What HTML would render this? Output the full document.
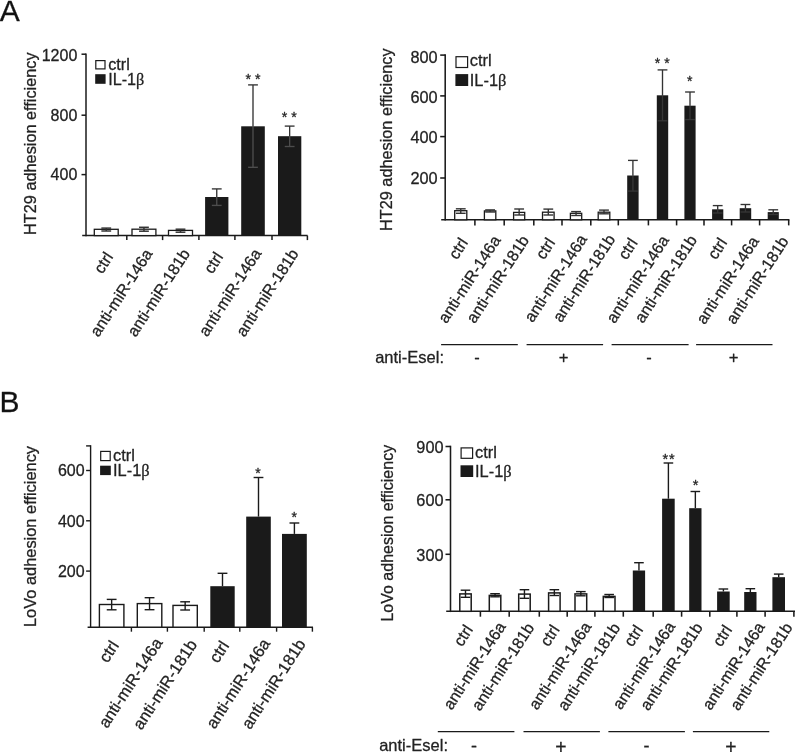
<!DOCTYPE html>
<html lang="en">
<head>
<meta charset="utf-8">
<title>Adhesion efficiency figure</title>
<style>
html,body{margin:0;padding:0;background:#ffffff;}
body{width:795px;height:752px;overflow:hidden;font-family:"Liberation Sans", sans-serif;}
svg{will-change:transform;}
svg text{font-family:"Liberation Sans", sans-serif;stroke:#222222;stroke-width:0.28px;stroke-linejoin:round;}
</style>
</head>
<body>
<svg width="795" height="752" viewBox="0 0 795 752" font-family='"Liberation Sans", sans-serif' style="display:block">
<rect x="0" y="0" width="795" height="752" fill="#ffffff"/>
<text x="-0.20" y="20.50" font-size="30" text-anchor="start" fill="#111111">A</text>
<text x="-0.60" y="411.80" font-size="30" text-anchor="start" fill="#111111">B</text>
<line x1="86.00" y1="53.45" x2="86.00" y2="236.35" stroke="#1a1a1a" stroke-width="1.5"/>
<line x1="82.20" y1="235.60" x2="307.60" y2="235.60" stroke="#1a1a1a" stroke-width="1.5"/>
<line x1="81.50" y1="54.20" x2="86.00" y2="54.20" stroke="#1a1a1a" stroke-width="1.5"/>
<text x="77.30" y="60.80" font-size="16" text-anchor="end" fill="#222222">1200</text>
<line x1="81.50" y1="115.20" x2="86.00" y2="115.20" stroke="#1a1a1a" stroke-width="1.5"/>
<text x="77.30" y="120.70" font-size="16" text-anchor="end" fill="#222222">800</text>
<line x1="81.50" y1="174.60" x2="86.00" y2="174.60" stroke="#1a1a1a" stroke-width="1.5"/>
<text x="77.30" y="180.20" font-size="16" text-anchor="end" fill="#222222">400</text>
<line x1="126.80" y1="235.60" x2="126.80" y2="240.10" stroke="#1a1a1a" stroke-width="1.5"/>
<line x1="162.60" y1="235.60" x2="162.60" y2="240.10" stroke="#1a1a1a" stroke-width="1.5"/>
<line x1="198.90" y1="235.60" x2="198.90" y2="240.10" stroke="#1a1a1a" stroke-width="1.5"/>
<line x1="234.90" y1="235.60" x2="234.90" y2="240.10" stroke="#1a1a1a" stroke-width="1.5"/>
<line x1="272.00" y1="235.60" x2="272.00" y2="240.10" stroke="#1a1a1a" stroke-width="1.5"/>
<line x1="307.40" y1="235.60" x2="307.40" y2="240.10" stroke="#1a1a1a" stroke-width="1.5"/>
<rect x="94.30" y="229.30" width="23.90" height="6.30" fill="#ffffff" stroke="#1a1a1a" stroke-width="1.3"/>
<line x1="106.25" y1="228.10" x2="106.25" y2="229.30" stroke="#333333" stroke-width="1.5"/>
<line x1="106.25" y1="229.30" x2="106.25" y2="231.00" stroke="#333333" stroke-width="1.5"/>
<line x1="101.35" y1="228.10" x2="111.15" y2="228.10" stroke="#333333" stroke-width="1.5"/>
<line x1="101.35" y1="231.00" x2="111.15" y2="231.00" stroke="#333333" stroke-width="1.5"/>
<rect x="132.00" y="229.20" width="23.90" height="6.40" fill="#ffffff" stroke="#1a1a1a" stroke-width="1.3"/>
<line x1="143.95" y1="227.30" x2="143.95" y2="229.20" stroke="#333333" stroke-width="1.5"/>
<line x1="143.95" y1="229.20" x2="143.95" y2="231.20" stroke="#333333" stroke-width="1.5"/>
<line x1="139.05" y1="227.30" x2="148.85" y2="227.30" stroke="#333333" stroke-width="1.5"/>
<line x1="139.05" y1="231.20" x2="148.85" y2="231.20" stroke="#333333" stroke-width="1.5"/>
<rect x="168.50" y="230.40" width="24.00" height="5.20" fill="#ffffff" stroke="#1a1a1a" stroke-width="1.3"/>
<line x1="180.50" y1="229.20" x2="180.50" y2="230.40" stroke="#333333" stroke-width="1.5"/>
<line x1="180.50" y1="230.40" x2="180.50" y2="232.20" stroke="#333333" stroke-width="1.5"/>
<line x1="175.60" y1="229.20" x2="185.40" y2="229.20" stroke="#333333" stroke-width="1.5"/>
<line x1="175.60" y1="232.20" x2="185.40" y2="232.20" stroke="#333333" stroke-width="1.5"/>
<rect x="205.10" y="197.00" width="23.30" height="38.60" fill="#1a1a1a"/>
<line x1="216.75" y1="188.90" x2="216.75" y2="197.00" stroke="#333333" stroke-width="1.35"/>
<line x1="216.75" y1="197.00" x2="216.75" y2="205.40" stroke="#4d4d4d" stroke-width="1.35"/>
<line x1="211.85" y1="188.90" x2="221.65" y2="188.90" stroke="#333333" stroke-width="1.35"/>
<line x1="211.85" y1="205.40" x2="221.65" y2="205.40" stroke="#4d4d4d" stroke-width="1.35"/>
<rect x="241.20" y="126.30" width="23.60" height="109.30" fill="#1a1a1a"/>
<line x1="253.00" y1="84.90" x2="253.00" y2="126.30" stroke="#333333" stroke-width="1.35"/>
<line x1="253.00" y1="126.30" x2="253.00" y2="167.30" stroke="#4d4d4d" stroke-width="1.35"/>
<line x1="248.10" y1="84.90" x2="257.90" y2="84.90" stroke="#333333" stroke-width="1.35"/>
<line x1="248.10" y1="167.30" x2="257.90" y2="167.30" stroke="#4d4d4d" stroke-width="1.35"/>
<rect x="278.00" y="136.20" width="23.30" height="99.40" fill="#1a1a1a"/>
<line x1="289.65" y1="126.10" x2="289.65" y2="136.20" stroke="#333333" stroke-width="1.35"/>
<line x1="289.65" y1="136.20" x2="289.65" y2="146.50" stroke="#4d4d4d" stroke-width="1.35"/>
<line x1="284.75" y1="126.10" x2="294.55" y2="126.10" stroke="#333333" stroke-width="1.35"/>
<line x1="284.75" y1="146.50" x2="294.55" y2="146.50" stroke="#4d4d4d" stroke-width="1.35"/>
<rect x="95.80" y="60.60" width="9.20" height="8.30" fill="#ffffff" stroke="#1a1a1a" stroke-width="1.2"/>
<text x="108.20" y="69.50" font-size="16.2" text-anchor="start" fill="#222222">ctrl</text>
<rect x="95.20" y="74.20" width="10.40" height="9.60" fill="#1a1a1a"/>
<text x="108.20" y="85.00" font-size="16.2" text-anchor="start" fill="#222222">IL-1<tspan font-family="'Liberation Serif', serif">&#946;</tspan></text>
<text transform="translate(36.00,234.90) rotate(-90)" font-size="16.3" text-anchor="start" fill="#222222">HT29 adhesion efficiency</text>
<text transform="translate(113.80,256.80) rotate(-57)" font-size="16" text-anchor="end" fill="#222222">ctrl</text>
<text transform="translate(153.20,253.50) rotate(-57)" font-size="16" text-anchor="end" fill="#222222">anti-miR-146a</text>
<text transform="translate(190.50,253.50) rotate(-57)" font-size="16" text-anchor="end" fill="#222222">anti-miR-181b</text>
<text transform="translate(223.80,256.80) rotate(-57)" font-size="16" text-anchor="end" fill="#222222">ctrl</text>
<text transform="translate(262.00,253.20) rotate(-57)" font-size="16" text-anchor="end" fill="#222222">anti-miR-146a</text>
<text transform="translate(299.20,253.50) rotate(-57)" font-size="16" text-anchor="end" fill="#222222">anti-miR-181b</text>
<text x="253.00" y="83.80" font-size="14.2" text-anchor="middle" fill="#222222">* *</text>
<text x="289.30" y="122.30" font-size="14.2" text-anchor="middle" fill="#222222">* *</text>
<line x1="445.20" y1="54.33" x2="445.20" y2="220.58" stroke="#1a1a1a" stroke-width="1.55"/>
<line x1="441.20" y1="219.80" x2="789.40" y2="219.80" stroke="#1a1a1a" stroke-width="1.55"/>
<line x1="440.20" y1="55.10" x2="445.20" y2="55.10" stroke="#1a1a1a" stroke-width="1.55"/>
<text x="437.60" y="62.60" font-size="16.3" text-anchor="end" fill="#222222">800</text>
<line x1="440.20" y1="95.90" x2="445.20" y2="95.90" stroke="#1a1a1a" stroke-width="1.55"/>
<text x="437.60" y="102.60" font-size="16.3" text-anchor="end" fill="#222222">600</text>
<line x1="440.20" y1="136.60" x2="445.20" y2="136.60" stroke="#1a1a1a" stroke-width="1.55"/>
<text x="437.60" y="143.00" font-size="16.3" text-anchor="end" fill="#222222">400</text>
<line x1="440.20" y1="178.00" x2="445.20" y2="178.00" stroke="#1a1a1a" stroke-width="1.55"/>
<text x="437.60" y="183.50" font-size="16.3" text-anchor="end" fill="#222222">200</text>
<line x1="474.90" y1="219.80" x2="474.90" y2="225.40" stroke="#1a1a1a" stroke-width="1.55"/>
<line x1="504.20" y1="219.80" x2="504.20" y2="225.40" stroke="#1a1a1a" stroke-width="1.55"/>
<line x1="533.80" y1="219.80" x2="533.80" y2="225.40" stroke="#1a1a1a" stroke-width="1.55"/>
<line x1="562.00" y1="219.80" x2="562.00" y2="225.40" stroke="#1a1a1a" stroke-width="1.55"/>
<line x1="590.80" y1="219.80" x2="590.80" y2="225.40" stroke="#1a1a1a" stroke-width="1.55"/>
<line x1="618.30" y1="219.80" x2="618.30" y2="225.40" stroke="#1a1a1a" stroke-width="1.55"/>
<line x1="648.40" y1="219.80" x2="648.40" y2="225.40" stroke="#1a1a1a" stroke-width="1.55"/>
<line x1="676.60" y1="219.80" x2="676.60" y2="225.40" stroke="#1a1a1a" stroke-width="1.55"/>
<line x1="704.00" y1="219.80" x2="704.00" y2="225.40" stroke="#1a1a1a" stroke-width="1.55"/>
<line x1="731.60" y1="219.80" x2="731.60" y2="225.40" stroke="#1a1a1a" stroke-width="1.55"/>
<line x1="759.60" y1="219.80" x2="759.60" y2="225.40" stroke="#1a1a1a" stroke-width="1.55"/>
<line x1="788.70" y1="219.80" x2="788.70" y2="225.40" stroke="#1a1a1a" stroke-width="1.55"/>
<rect x="454.70" y="210.70" width="12.10" height="9.10" fill="#ffffff" stroke="#1a1a1a" stroke-width="1.3"/>
<line x1="460.75" y1="208.80" x2="460.75" y2="210.70" stroke="#333333" stroke-width="1.4"/>
<line x1="460.75" y1="210.70" x2="460.75" y2="213.30" stroke="#333333" stroke-width="1.4"/>
<line x1="455.85" y1="208.80" x2="465.65" y2="208.80" stroke="#333333" stroke-width="1.4"/>
<line x1="455.85" y1="213.30" x2="465.65" y2="213.30" stroke="#333333" stroke-width="1.4"/>
<rect x="484.40" y="210.90" width="11.40" height="8.90" fill="#ffffff" stroke="#1a1a1a" stroke-width="1.3"/>
<line x1="490.10" y1="209.90" x2="490.10" y2="210.90" stroke="#333333" stroke-width="1.4"/>
<line x1="490.10" y1="210.90" x2="490.10" y2="212.00" stroke="#333333" stroke-width="1.4"/>
<line x1="485.20" y1="209.90" x2="495.00" y2="209.90" stroke="#333333" stroke-width="1.4"/>
<line x1="485.20" y1="212.00" x2="495.00" y2="212.00" stroke="#333333" stroke-width="1.4"/>
<rect x="513.60" y="212.40" width="11.10" height="7.40" fill="#ffffff" stroke="#1a1a1a" stroke-width="1.3"/>
<line x1="519.15" y1="209.00" x2="519.15" y2="212.40" stroke="#333333" stroke-width="1.4"/>
<line x1="519.15" y1="212.40" x2="519.15" y2="215.00" stroke="#333333" stroke-width="1.4"/>
<line x1="514.25" y1="209.00" x2="524.05" y2="209.00" stroke="#333333" stroke-width="1.4"/>
<line x1="514.25" y1="215.00" x2="524.05" y2="215.00" stroke="#333333" stroke-width="1.4"/>
<rect x="542.50" y="212.20" width="11.60" height="7.60" fill="#ffffff" stroke="#1a1a1a" stroke-width="1.3"/>
<line x1="548.30" y1="209.10" x2="548.30" y2="212.20" stroke="#333333" stroke-width="1.4"/>
<line x1="548.30" y1="212.20" x2="548.30" y2="215.00" stroke="#333333" stroke-width="1.4"/>
<line x1="543.40" y1="209.10" x2="553.20" y2="209.10" stroke="#333333" stroke-width="1.4"/>
<line x1="543.40" y1="215.00" x2="553.20" y2="215.00" stroke="#333333" stroke-width="1.4"/>
<rect x="570.40" y="213.30" width="11.30" height="6.50" fill="#ffffff" stroke="#1a1a1a" stroke-width="1.3"/>
<line x1="576.05" y1="211.60" x2="576.05" y2="213.30" stroke="#333333" stroke-width="1.4"/>
<line x1="576.05" y1="213.30" x2="576.05" y2="215.50" stroke="#333333" stroke-width="1.4"/>
<line x1="571.15" y1="211.60" x2="580.95" y2="211.60" stroke="#333333" stroke-width="1.4"/>
<line x1="571.15" y1="215.50" x2="580.95" y2="215.50" stroke="#333333" stroke-width="1.4"/>
<rect x="598.20" y="212.20" width="11.60" height="7.60" fill="#ffffff" stroke="#1a1a1a" stroke-width="1.3"/>
<line x1="604.00" y1="210.10" x2="604.00" y2="212.20" stroke="#333333" stroke-width="1.4"/>
<line x1="604.00" y1="212.20" x2="604.00" y2="213.80" stroke="#333333" stroke-width="1.4"/>
<line x1="599.10" y1="210.10" x2="608.90" y2="210.10" stroke="#333333" stroke-width="1.4"/>
<line x1="599.10" y1="213.80" x2="608.90" y2="213.80" stroke="#333333" stroke-width="1.4"/>
<rect x="627.20" y="175.50" width="11.40" height="44.30" fill="#1a1a1a"/>
<line x1="632.90" y1="160.40" x2="632.90" y2="175.50" stroke="#333333" stroke-width="1.35"/>
<line x1="632.90" y1="175.50" x2="632.90" y2="191.10" stroke="#363636" stroke-width="1.35"/>
<line x1="628.00" y1="160.40" x2="637.80" y2="160.40" stroke="#333333" stroke-width="1.35"/>
<line x1="628.00" y1="191.10" x2="637.80" y2="191.10" stroke="#363636" stroke-width="1.35"/>
<rect x="656.80" y="95.30" width="11.40" height="124.50" fill="#1a1a1a"/>
<line x1="662.50" y1="69.90" x2="662.50" y2="95.30" stroke="#333333" stroke-width="1.35"/>
<line x1="662.50" y1="95.30" x2="662.50" y2="120.80" stroke="#363636" stroke-width="1.35"/>
<line x1="657.60" y1="69.90" x2="667.40" y2="69.90" stroke="#333333" stroke-width="1.35"/>
<line x1="657.60" y1="120.80" x2="667.40" y2="120.80" stroke="#363636" stroke-width="1.35"/>
<rect x="684.40" y="105.70" width="11.20" height="114.10" fill="#1a1a1a"/>
<line x1="690.00" y1="92.00" x2="690.00" y2="105.70" stroke="#333333" stroke-width="1.35"/>
<line x1="690.00" y1="105.70" x2="690.00" y2="119.60" stroke="#363636" stroke-width="1.35"/>
<line x1="685.10" y1="92.00" x2="694.90" y2="92.00" stroke="#333333" stroke-width="1.35"/>
<line x1="685.10" y1="119.60" x2="694.90" y2="119.60" stroke="#363636" stroke-width="1.35"/>
<rect x="712.10" y="209.30" width="11.20" height="10.50" fill="#1a1a1a"/>
<line x1="717.70" y1="205.60" x2="717.70" y2="209.30" stroke="#333333" stroke-width="1.35"/>
<line x1="717.70" y1="209.30" x2="717.70" y2="213.00" stroke="#363636" stroke-width="1.35"/>
<line x1="712.80" y1="205.60" x2="722.60" y2="205.60" stroke="#333333" stroke-width="1.35"/>
<line x1="712.80" y1="213.00" x2="722.60" y2="213.00" stroke="#363636" stroke-width="1.35"/>
<rect x="739.70" y="208.20" width="11.50" height="11.60" fill="#1a1a1a"/>
<line x1="745.45" y1="204.50" x2="745.45" y2="208.20" stroke="#333333" stroke-width="1.35"/>
<line x1="745.45" y1="208.20" x2="745.45" y2="212.00" stroke="#363636" stroke-width="1.35"/>
<line x1="740.55" y1="204.50" x2="750.35" y2="204.50" stroke="#333333" stroke-width="1.35"/>
<line x1="740.55" y1="212.00" x2="750.35" y2="212.00" stroke="#363636" stroke-width="1.35"/>
<rect x="767.70" y="212.10" width="11.10" height="7.70" fill="#1a1a1a"/>
<line x1="773.25" y1="209.80" x2="773.25" y2="212.10" stroke="#333333" stroke-width="1.35"/>
<line x1="773.25" y1="212.10" x2="773.25" y2="214.50" stroke="#363636" stroke-width="1.35"/>
<line x1="768.35" y1="209.80" x2="778.15" y2="209.80" stroke="#333333" stroke-width="1.35"/>
<line x1="768.35" y1="214.50" x2="778.15" y2="214.50" stroke="#363636" stroke-width="1.35"/>
<rect x="456.00" y="56.70" width="11.60" height="10.80" fill="#ffffff" stroke="#1a1a1a" stroke-width="1.2"/>
<text x="469.80" y="66.20" font-size="16.4" text-anchor="start" fill="#222222">ctrl</text>
<rect x="455.40" y="74.10" width="12.80" height="11.90" fill="#1a1a1a"/>
<text x="469.80" y="85.80" font-size="16.4" text-anchor="start" fill="#222222">IL-1<tspan font-family="'Liberation Serif', serif">&#946;</tspan></text>
<text transform="translate(392.00,231.00) rotate(-90)" font-size="16.3" text-anchor="start" fill="#222222">HT29 adhesion efficiency</text>
<text transform="translate(468.50,242.50) rotate(-57)" font-size="16" text-anchor="end" fill="#222222">ctrl</text>
<text transform="translate(501.30,240.00) rotate(-57)" font-size="16" text-anchor="end" fill="#222222">anti-miR-146a</text>
<text transform="translate(529.60,240.00) rotate(-57)" font-size="16" text-anchor="end" fill="#222222">anti-miR-181b</text>
<text transform="translate(555.70,242.50) rotate(-57)" font-size="16" text-anchor="end" fill="#222222">ctrl</text>
<text transform="translate(587.60,239.00) rotate(-57)" font-size="16" text-anchor="end" fill="#222222">anti-miR-146a</text>
<text transform="translate(615.90,239.00) rotate(-57)" font-size="16" text-anchor="end" fill="#222222">anti-miR-181b</text>
<text transform="translate(638.10,242.80) rotate(-57)" font-size="16" text-anchor="end" fill="#222222">ctrl</text>
<text transform="translate(669.50,240.00) rotate(-57)" font-size="16" text-anchor="end" fill="#222222">anti-miR-146a</text>
<text transform="translate(697.70,239.70) rotate(-57)" font-size="16" text-anchor="end" fill="#222222">anti-miR-181b</text>
<text transform="translate(727.70,242.50) rotate(-57)" font-size="16" text-anchor="end" fill="#222222">ctrl</text>
<text transform="translate(759.50,241.00) rotate(-57)" font-size="16" text-anchor="end" fill="#222222">anti-miR-146a</text>
<text transform="translate(789.20,241.00) rotate(-57)" font-size="16" text-anchor="end" fill="#222222">anti-miR-181b</text>
<text x="662.20" y="67.60" font-size="14" text-anchor="middle" fill="#222222">* *</text>
<text x="689.80" y="85.90" font-size="14" text-anchor="middle" fill="#222222">*</text>
<line x1="441.10" y1="344.60" x2="517.80" y2="344.60" stroke="#1a1a1a" stroke-width="1.3"/>
<line x1="526.60" y1="344.60" x2="603.10" y2="344.60" stroke="#1a1a1a" stroke-width="1.3"/>
<line x1="611.60" y1="344.60" x2="688.60" y2="344.60" stroke="#1a1a1a" stroke-width="1.3"/>
<line x1="696.10" y1="344.60" x2="772.50" y2="344.60" stroke="#1a1a1a" stroke-width="1.3"/>
<text x="375.20" y="362.90" font-size="16.5" text-anchor="start" fill="#222222">anti-Esel:</text>
<text x="476.90" y="362.90" font-size="16.4" text-anchor="middle" fill="#222222">-</text>
<text x="563.50" y="362.90" font-size="16.6" text-anchor="middle" fill="#222222">+</text>
<text x="649.00" y="362.90" font-size="16.4" text-anchor="middle" fill="#222222">-</text>
<text x="733.50" y="362.90" font-size="16.6" text-anchor="middle" fill="#222222">+</text>
<line x1="90.60" y1="445.20" x2="90.60" y2="627.90" stroke="#1a1a1a" stroke-width="1.4"/>
<line x1="87.60" y1="627.20" x2="313.00" y2="627.20" stroke="#1a1a1a" stroke-width="1.4"/>
<line x1="86.10" y1="445.90" x2="90.60" y2="445.90" stroke="#1a1a1a" stroke-width="1.4"/>
<line x1="86.10" y1="470.50" x2="90.60" y2="470.50" stroke="#1a1a1a" stroke-width="1.4"/>
<text x="84.60" y="476.40" font-size="16" text-anchor="end" fill="#222222">600</text>
<line x1="86.10" y1="520.80" x2="90.60" y2="520.80" stroke="#1a1a1a" stroke-width="1.4"/>
<text x="84.60" y="526.60" font-size="16" text-anchor="end" fill="#222222">400</text>
<line x1="86.10" y1="571.10" x2="90.60" y2="571.10" stroke="#1a1a1a" stroke-width="1.4"/>
<text x="84.60" y="577.10" font-size="16" text-anchor="end" fill="#222222">200</text>
<line x1="131.40" y1="627.20" x2="131.40" y2="631.70" stroke="#1a1a1a" stroke-width="1.4"/>
<line x1="167.40" y1="627.20" x2="167.40" y2="631.70" stroke="#1a1a1a" stroke-width="1.4"/>
<line x1="204.20" y1="627.20" x2="204.20" y2="631.70" stroke="#1a1a1a" stroke-width="1.4"/>
<line x1="239.80" y1="627.20" x2="239.80" y2="631.70" stroke="#1a1a1a" stroke-width="1.4"/>
<line x1="276.60" y1="627.20" x2="276.60" y2="631.70" stroke="#1a1a1a" stroke-width="1.4"/>
<line x1="312.40" y1="627.20" x2="312.40" y2="631.70" stroke="#1a1a1a" stroke-width="1.4"/>
<rect x="99.40" y="604.50" width="24.50" height="22.70" fill="#ffffff" stroke="#1a1a1a" stroke-width="1.4"/>
<line x1="111.65" y1="599.40" x2="111.65" y2="604.50" stroke="#1a1a1a" stroke-width="1.4"/>
<line x1="111.65" y1="604.50" x2="111.65" y2="609.80" stroke="#1a1a1a" stroke-width="1.4"/>
<line x1="106.75" y1="599.40" x2="116.55" y2="599.40" stroke="#1a1a1a" stroke-width="1.4"/>
<line x1="106.75" y1="609.80" x2="116.55" y2="609.80" stroke="#1a1a1a" stroke-width="1.4"/>
<rect x="137.30" y="603.60" width="24.50" height="23.60" fill="#ffffff" stroke="#1a1a1a" stroke-width="1.4"/>
<line x1="149.55" y1="597.70" x2="149.55" y2="603.60" stroke="#1a1a1a" stroke-width="1.4"/>
<line x1="149.55" y1="603.60" x2="149.55" y2="609.70" stroke="#1a1a1a" stroke-width="1.4"/>
<line x1="144.65" y1="597.70" x2="154.45" y2="597.70" stroke="#1a1a1a" stroke-width="1.4"/>
<line x1="144.65" y1="609.70" x2="154.45" y2="609.70" stroke="#1a1a1a" stroke-width="1.4"/>
<rect x="173.00" y="605.40" width="24.30" height="21.80" fill="#ffffff" stroke="#1a1a1a" stroke-width="1.4"/>
<line x1="185.15" y1="601.80" x2="185.15" y2="605.40" stroke="#1a1a1a" stroke-width="1.4"/>
<line x1="185.15" y1="605.40" x2="185.15" y2="610.00" stroke="#1a1a1a" stroke-width="1.4"/>
<line x1="180.25" y1="601.80" x2="190.05" y2="601.80" stroke="#1a1a1a" stroke-width="1.4"/>
<line x1="180.25" y1="610.00" x2="190.05" y2="610.00" stroke="#1a1a1a" stroke-width="1.4"/>
<rect x="210.30" y="586.20" width="24.40" height="41.00" fill="#1a1a1a"/>
<line x1="222.50" y1="573.30" x2="222.50" y2="586.20" stroke="#1a1a1a" stroke-width="1.4"/>
<line x1="217.60" y1="573.30" x2="227.40" y2="573.30" stroke="#1a1a1a" stroke-width="1.4"/>
<rect x="246.20" y="516.60" width="24.60" height="110.60" fill="#1a1a1a"/>
<line x1="258.50" y1="477.50" x2="258.50" y2="516.60" stroke="#1a1a1a" stroke-width="1.4"/>
<line x1="253.60" y1="477.50" x2="263.40" y2="477.50" stroke="#1a1a1a" stroke-width="1.4"/>
<rect x="282.00" y="533.90" width="24.80" height="93.30" fill="#1a1a1a"/>
<line x1="294.40" y1="523.00" x2="294.40" y2="533.90" stroke="#1a1a1a" stroke-width="1.4"/>
<line x1="289.50" y1="523.00" x2="299.30" y2="523.00" stroke="#1a1a1a" stroke-width="1.4"/>
<rect x="100.70" y="451.40" width="9.50" height="9.20" fill="#ffffff" stroke="#1a1a1a" stroke-width="1.2"/>
<text x="113.00" y="460.60" font-size="16.4" text-anchor="start" fill="#222222">ctrl</text>
<rect x="100.10" y="465.70" width="10.70" height="9.40" fill="#1a1a1a"/>
<text x="113.00" y="475.90" font-size="16.4" text-anchor="start" fill="#222222">IL-1<tspan font-family="'Liberation Serif', serif">&#946;</tspan></text>
<text transform="translate(36.20,627.00) rotate(-90)" font-size="16.4" text-anchor="start" fill="#222222">LoVo adhesion efficiency</text>
<text transform="translate(119.50,645.40) rotate(-57)" font-size="16.4" text-anchor="end" fill="#222222">ctrl</text>
<text transform="translate(163.20,642.70) rotate(-57)" font-size="16.4" text-anchor="end" fill="#222222">anti-miR-146a</text>
<text transform="translate(197.60,644.30) rotate(-57)" font-size="16.4" text-anchor="end" fill="#222222">anti-miR-181b</text>
<text transform="translate(229.70,645.60) rotate(-57)" font-size="16.4" text-anchor="end" fill="#222222">ctrl</text>
<text transform="translate(270.80,643.30) rotate(-57)" font-size="16.4" text-anchor="end" fill="#222222">anti-miR-146a</text>
<text transform="translate(306.20,643.80) rotate(-57)" font-size="16.4" text-anchor="end" fill="#222222">anti-miR-181b</text>
<text x="258.00" y="478.20" font-size="14" text-anchor="middle" fill="#222222">*</text>
<text x="294.30" y="522.20" font-size="14" text-anchor="middle" fill="#222222">*</text>
<line x1="450.50" y1="445.73" x2="450.50" y2="612.07" stroke="#1a1a1a" stroke-width="1.55"/>
<line x1="446.20" y1="611.30" x2="795.00" y2="611.30" stroke="#1a1a1a" stroke-width="1.55"/>
<line x1="445.50" y1="446.50" x2="450.50" y2="446.50" stroke="#1a1a1a" stroke-width="1.55"/>
<text x="443.50" y="453.40" font-size="16.3" text-anchor="end" fill="#222222">900</text>
<line x1="445.50" y1="499.80" x2="450.50" y2="499.80" stroke="#1a1a1a" stroke-width="1.55"/>
<text x="443.50" y="506.40" font-size="16.3" text-anchor="end" fill="#222222">600</text>
<line x1="445.50" y1="554.30" x2="450.50" y2="554.30" stroke="#1a1a1a" stroke-width="1.55"/>
<text x="443.50" y="560.90" font-size="16.3" text-anchor="end" fill="#222222">300</text>
<line x1="480.40" y1="611.30" x2="480.40" y2="616.70" stroke="#1a1a1a" stroke-width="1.55"/>
<line x1="509.20" y1="611.30" x2="509.20" y2="616.70" stroke="#1a1a1a" stroke-width="1.55"/>
<line x1="539.30" y1="611.30" x2="539.30" y2="616.70" stroke="#1a1a1a" stroke-width="1.55"/>
<line x1="567.20" y1="611.30" x2="567.20" y2="616.70" stroke="#1a1a1a" stroke-width="1.55"/>
<line x1="594.90" y1="611.30" x2="594.90" y2="616.70" stroke="#1a1a1a" stroke-width="1.55"/>
<line x1="623.30" y1="611.30" x2="623.30" y2="616.70" stroke="#1a1a1a" stroke-width="1.55"/>
<line x1="653.20" y1="611.30" x2="653.20" y2="616.70" stroke="#1a1a1a" stroke-width="1.55"/>
<line x1="681.60" y1="611.30" x2="681.60" y2="616.70" stroke="#1a1a1a" stroke-width="1.55"/>
<line x1="709.80" y1="611.30" x2="709.80" y2="616.70" stroke="#1a1a1a" stroke-width="1.55"/>
<line x1="736.90" y1="611.30" x2="736.90" y2="616.70" stroke="#1a1a1a" stroke-width="1.55"/>
<line x1="765.10" y1="611.30" x2="765.10" y2="616.70" stroke="#1a1a1a" stroke-width="1.55"/>
<line x1="793.90" y1="611.30" x2="793.90" y2="616.70" stroke="#1a1a1a" stroke-width="1.55"/>
<rect x="459.80" y="593.90" width="11.40" height="17.40" fill="#ffffff" stroke="#1a1a1a" stroke-width="1.5"/>
<line x1="465.50" y1="590.20" x2="465.50" y2="593.90" stroke="#1a1a1a" stroke-width="1.4"/>
<line x1="465.50" y1="593.90" x2="465.50" y2="597.30" stroke="#1a1a1a" stroke-width="1.4"/>
<line x1="460.70" y1="590.20" x2="470.30" y2="590.20" stroke="#1a1a1a" stroke-width="1.4"/>
<line x1="460.70" y1="597.30" x2="470.30" y2="597.30" stroke="#1a1a1a" stroke-width="1.4"/>
<rect x="489.30" y="595.40" width="11.50" height="15.90" fill="#ffffff" stroke="#1a1a1a" stroke-width="1.5"/>
<line x1="495.05" y1="593.70" x2="495.05" y2="595.40" stroke="#1a1a1a" stroke-width="1.4"/>
<line x1="495.05" y1="595.40" x2="495.05" y2="596.80" stroke="#1a1a1a" stroke-width="1.4"/>
<line x1="490.25" y1="593.70" x2="499.85" y2="593.70" stroke="#1a1a1a" stroke-width="1.4"/>
<line x1="490.25" y1="596.80" x2="499.85" y2="596.80" stroke="#1a1a1a" stroke-width="1.4"/>
<rect x="518.70" y="594.10" width="11.50" height="17.20" fill="#ffffff" stroke="#1a1a1a" stroke-width="1.5"/>
<line x1="524.45" y1="589.70" x2="524.45" y2="594.10" stroke="#1a1a1a" stroke-width="1.4"/>
<line x1="524.45" y1="594.10" x2="524.45" y2="598.30" stroke="#1a1a1a" stroke-width="1.4"/>
<line x1="519.65" y1="589.70" x2="529.25" y2="589.70" stroke="#1a1a1a" stroke-width="1.4"/>
<line x1="519.65" y1="598.30" x2="529.25" y2="598.30" stroke="#1a1a1a" stroke-width="1.4"/>
<rect x="548.60" y="592.90" width="11.50" height="18.40" fill="#ffffff" stroke="#1a1a1a" stroke-width="1.5"/>
<line x1="554.35" y1="589.70" x2="554.35" y2="592.90" stroke="#1a1a1a" stroke-width="1.4"/>
<line x1="554.35" y1="592.90" x2="554.35" y2="595.50" stroke="#1a1a1a" stroke-width="1.4"/>
<line x1="549.55" y1="589.70" x2="559.15" y2="589.70" stroke="#1a1a1a" stroke-width="1.4"/>
<line x1="549.55" y1="595.50" x2="559.15" y2="595.50" stroke="#1a1a1a" stroke-width="1.4"/>
<rect x="575.00" y="593.90" width="11.70" height="17.40" fill="#ffffff" stroke="#1a1a1a" stroke-width="1.5"/>
<line x1="580.85" y1="591.60" x2="580.85" y2="593.90" stroke="#1a1a1a" stroke-width="1.4"/>
<line x1="580.85" y1="593.90" x2="580.85" y2="595.80" stroke="#1a1a1a" stroke-width="1.4"/>
<line x1="576.05" y1="591.60" x2="585.65" y2="591.60" stroke="#1a1a1a" stroke-width="1.4"/>
<line x1="576.05" y1="595.80" x2="585.65" y2="595.80" stroke="#1a1a1a" stroke-width="1.4"/>
<rect x="603.30" y="596.40" width="11.70" height="14.90" fill="#ffffff" stroke="#1a1a1a" stroke-width="1.5"/>
<line x1="609.15" y1="594.50" x2="609.15" y2="596.40" stroke="#1a1a1a" stroke-width="1.4"/>
<line x1="609.15" y1="596.40" x2="609.15" y2="597.50" stroke="#1a1a1a" stroke-width="1.4"/>
<line x1="604.35" y1="594.50" x2="613.95" y2="594.50" stroke="#1a1a1a" stroke-width="1.4"/>
<line x1="604.35" y1="597.50" x2="613.95" y2="597.50" stroke="#1a1a1a" stroke-width="1.4"/>
<rect x="632.80" y="570.50" width="12.30" height="40.80" fill="#1a1a1a"/>
<line x1="638.95" y1="562.70" x2="638.95" y2="570.50" stroke="#1a1a1a" stroke-width="1.4"/>
<line x1="634.15" y1="562.70" x2="643.75" y2="562.70" stroke="#1a1a1a" stroke-width="1.4"/>
<rect x="662.10" y="498.70" width="12.60" height="112.60" fill="#1a1a1a"/>
<line x1="668.40" y1="463.00" x2="668.40" y2="498.70" stroke="#1a1a1a" stroke-width="1.4"/>
<line x1="663.60" y1="463.00" x2="673.20" y2="463.00" stroke="#1a1a1a" stroke-width="1.4"/>
<rect x="689.20" y="508.20" width="12.30" height="103.10" fill="#1a1a1a"/>
<line x1="695.35" y1="491.50" x2="695.35" y2="508.20" stroke="#1a1a1a" stroke-width="1.4"/>
<line x1="690.55" y1="491.50" x2="700.15" y2="491.50" stroke="#1a1a1a" stroke-width="1.4"/>
<rect x="717.10" y="591.50" width="12.60" height="19.80" fill="#1a1a1a"/>
<line x1="723.40" y1="589.00" x2="723.40" y2="591.50" stroke="#1a1a1a" stroke-width="1.4"/>
<line x1="718.60" y1="589.00" x2="728.20" y2="589.00" stroke="#1a1a1a" stroke-width="1.4"/>
<rect x="744.20" y="592.00" width="12.30" height="19.30" fill="#1a1a1a"/>
<line x1="750.35" y1="588.70" x2="750.35" y2="592.00" stroke="#1a1a1a" stroke-width="1.4"/>
<line x1="745.55" y1="588.70" x2="755.15" y2="588.70" stroke="#1a1a1a" stroke-width="1.4"/>
<rect x="772.40" y="577.20" width="12.60" height="34.10" fill="#1a1a1a"/>
<line x1="778.70" y1="574.10" x2="778.70" y2="577.20" stroke="#1a1a1a" stroke-width="1.4"/>
<line x1="773.90" y1="574.10" x2="783.50" y2="574.10" stroke="#1a1a1a" stroke-width="1.4"/>
<rect x="461.10" y="447.90" width="11.50" height="10.40" fill="#ffffff" stroke="#1a1a1a" stroke-width="1.2"/>
<text x="475.00" y="457.90" font-size="16.4" text-anchor="start" fill="#222222">ctrl</text>
<rect x="460.50" y="465.30" width="12.70" height="11.70" fill="#1a1a1a"/>
<text x="475.00" y="476.90" font-size="16.4" text-anchor="start" fill="#222222">IL-1<tspan font-family="'Liberation Serif', serif">&#946;</tspan></text>
<text transform="translate(392.60,621.60) rotate(-90)" font-size="16.0" text-anchor="start" fill="#222222">LoVo adhesion efficiency</text>
<text transform="translate(473.50,629.50) rotate(-57)" font-size="16" text-anchor="end" fill="#222222">ctrl</text>
<text transform="translate(506.40,626.50) rotate(-57)" font-size="16" text-anchor="end" fill="#222222">anti-miR-146a</text>
<text transform="translate(534.80,627.50) rotate(-57)" font-size="16" text-anchor="end" fill="#222222">anti-miR-181b</text>
<text transform="translate(560.10,629.50) rotate(-57)" font-size="16" text-anchor="end" fill="#222222">ctrl</text>
<text transform="translate(592.00,626.50) rotate(-57)" font-size="16" text-anchor="end" fill="#222222">anti-miR-146a</text>
<text transform="translate(620.80,627.50) rotate(-57)" font-size="16" text-anchor="end" fill="#222222">anti-miR-181b</text>
<text transform="translate(643.80,629.80) rotate(-57)" font-size="16" text-anchor="end" fill="#222222">ctrl</text>
<text transform="translate(675.80,626.20) rotate(-57)" font-size="16" text-anchor="end" fill="#222222">anti-miR-146a</text>
<text transform="translate(703.30,627.20) rotate(-57)" font-size="16" text-anchor="end" fill="#222222">anti-miR-181b</text>
<text transform="translate(732.60,629.80) rotate(-57)" font-size="16" text-anchor="end" fill="#222222">ctrl</text>
<text transform="translate(765.40,626.70) rotate(-57)" font-size="16" text-anchor="end" fill="#222222">anti-miR-146a</text>
<text transform="translate(793.20,627.20) rotate(-57)" font-size="16" text-anchor="end" fill="#222222">anti-miR-181b</text>
<text x="668.50" y="463.60" font-size="14.5" text-anchor="middle" fill="#222222">*<tspan dx="0.9">*</tspan></text>
<text x="695.50" y="489.60" font-size="14.5" text-anchor="middle" fill="#222222">*</text>
<line x1="437.80" y1="731.70" x2="514.40" y2="731.70" stroke="#1a1a1a" stroke-width="1.3"/>
<line x1="523.50" y1="731.70" x2="599.90" y2="731.70" stroke="#1a1a1a" stroke-width="1.3"/>
<line x1="608.40" y1="731.70" x2="684.90" y2="731.70" stroke="#1a1a1a" stroke-width="1.3"/>
<line x1="692.90" y1="731.70" x2="769.30" y2="731.70" stroke="#1a1a1a" stroke-width="1.3"/>
<text x="379.20" y="750.70" font-size="16.5" text-anchor="start" fill="#222222">anti-Esel:</text>
<text x="474.00" y="752.20" font-size="18" text-anchor="middle" fill="#222222">-</text>
<text x="561.00" y="753.80" font-size="19.3" text-anchor="middle" fill="#222222">+</text>
<text x="646.40" y="752.20" font-size="18" text-anchor="middle" fill="#222222">-</text>
<text x="731.00" y="753.80" font-size="19.3" text-anchor="middle" fill="#222222">+</text>
</svg>
</body>
</html>
